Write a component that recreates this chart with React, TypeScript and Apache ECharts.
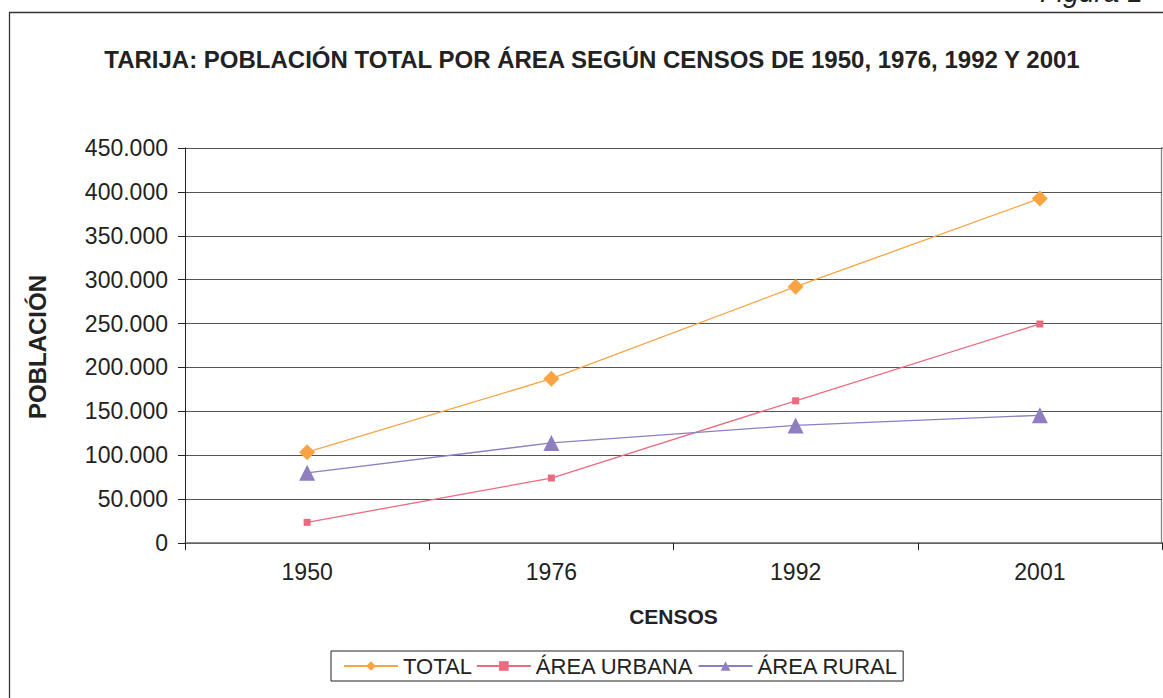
import React, { useEffect, useRef } from "react";
import * as echarts from "echarts";

const categories = ["1950", "1976", "1992", "2001"];
const totalValues = [103400, 187200, 292000, 392500];
const urbanValues = [23500, 74000, 162000, 249500];
const ruralValues = [80000, 114000, 134000, 145500];
const seriesNames = ["TOTAL", "ÁREA URBANA", "ÁREA RURAL"];
const titleText = "TARIJA: POBLACIÓN TOTAL POR ÁREA SEGÚN CENSOS DE 1950, 1976, 1992 Y 2001";

const fmt = (v: number) => String(v).replace(/\B(?=(\d{3})+(?!\d))/g, ".");

export default function App() {
  const ref = useRef<HTMLDivElement>(null);
  useEffect(() => {
    if (!ref.current) return;
    const chart = echarts.init(ref.current, null, { renderer: "svg" });
    const font = "Arial, 'Liberation Sans', sans-serif";
    chart.setOption({
      animation: false,
      backgroundColor: "#fff",
      textStyle: { fontFamily: font },
      title: {
        text: titleText,
        left: 587,
        textAlign: "center",
        top: 42,
        textStyle: { fontSize: 24, fontWeight: "bold", color: "#222", fontFamily: font },
      },
      grid: { left: 185, right: 1, top: 148, bottom: 155 },
      legend: {
        data: seriesNames,
        left: 331,
        top: 651,
        itemWidth: 54,
        itemHeight: 12,
        itemGap: 4,
        padding: [4, 5, 4, 12],
        borderColor: "#222",
        borderWidth: 1,
        textStyle: { fontSize: 22, color: "#222", fontFamily: font, padding: [0, 0, 0, 0] },
      },
      xAxis: {
        type: "category",
        data: categories,
        boundaryGap: true,
        axisLine: { lineStyle: { color: "#666", width: 1.5 } },
        axisTick: { show: true, length: 7, lineStyle: { color: "#222" } },
        axisLabel: { fontSize: 23, color: "#222", margin: 17, fontFamily: font },
        name: "CENSOS",
        nameLocation: "middle",
        nameGap: 63,
        nameTextStyle: { fontSize: 21, fontWeight: "bold", color: "#222", fontFamily: font },
      },
      yAxis: {
        type: "value",
        min: 0,
        max: 450000,
        interval: 50000,
        axisLine: { show: true, lineStyle: { color: "#222" } },
        axisTick: { show: true, length: 7, lineStyle: { color: "#222" } },
        axisLabel: { fontSize: 23, color: "#222", margin: 17, formatter: (v: number) => fmt(v), fontFamily: font },
        splitLine: { lineStyle: { color: "#555", width: 1.2 } },
      },
      graphic: [
        {
          type: "rect",
          shape: { x: 9.5, y: 12.5, width: 1170, height: 720 },
          style: { fill: "none", stroke: "#333", lineWidth: 1.3 },
          silent: true,
        },
        {
          type: "rect",
          shape: { x: 1161.5, y: 148, width: 10, height: 395 },
          style: { fill: "none", stroke: "#888", lineWidth: 1.3 },
          silent: true,
        },
        {
          type: "text",
          x: 1040,
          y: 6,
          style: {
            text: "Figura 1",
            font: "italic 28px Arial, 'Liberation Sans', sans-serif",
            fill: "#222",
            verticalAlign: "bottom",
            textVerticalAlign: "bottom",
          },
          silent: true,
        },
        {
          type: "text",
          x: 37,
          y: 347,
          rotation: Math.PI / 2,
          style: {
            text: "POBLACIÓN",
            font: "bold 24px Arial, 'Liberation Sans', sans-serif",
            fill: "#222",
            align: "center",
            verticalAlign: "middle",
            textAlign: "center",
            textVerticalAlign: "middle",
          },
          silent: true,
        },
      ],
      series: [
        {
          name: seriesNames[0],
          type: "line",
          data: totalValues,
          symbol: "diamond",
          symbolSize: 16,
          itemStyle: { color: "#F9A443" },
          lineStyle: { color: "#F9A443", width: 1.3 },
        },
        {
          name: seriesNames[1],
          type: "line",
          data: urbanValues,
          symbol: "rect",
          symbolSize: 7,
          itemStyle: { color: "#EC6A80" },
          lineStyle: { color: "#EC6A80", width: 1.3 },
        },
        {
          name: seriesNames[2],
          type: "line",
          data: ruralValues,
          symbol: "triangle",
          symbolSize: 16,
          itemStyle: { color: "#8F7EC0" },
          lineStyle: { color: "#8F7EC0", width: 1.3 },
        },
      ],
    });
    return () => chart.dispose();
  }, []);
  return (
    <div
      ref={ref}
      style={{ position: "fixed", left: 0, top: 0, width: 1163, height: 698 }}
    />
  );
}
